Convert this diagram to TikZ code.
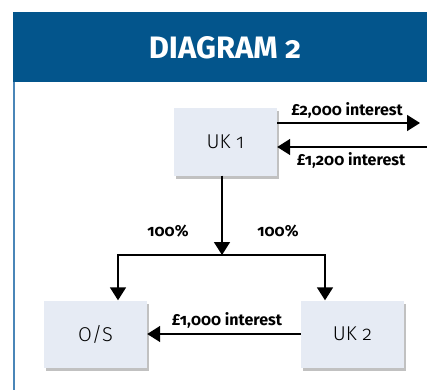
\documentclass[tikz,border=0pt]{standalone}
\usepackage{fontspec}
\setmainfont{Fira Sans}
\newfontfamily\lblfont[Numbers=OldStyle]{Fira Sans}
\newfontfamily\boxfont[Numbers=OldStyle]{Fira Sans Light}
\usepackage{tikz}
\usetikzlibrary{arrows.meta,shadows}

\definecolor{headblue}{HTML}{03558C}
\definecolor{lineblue}{HTML}{4A86B8}
\definecolor{boxfill}{HTML}{E6EBF4}

\tikzset{
    entity/.style={fill=boxfill,minimum width=103pt,minimum height=67pt,inner sep=0pt,
        font=\boxfont\fontsize{20}{22}\selectfont,
        drop shadow={shadow xshift=2pt,shadow yshift=-3pt,opacity=0.35,fill=black!70}},
    flow/.style={line width=1.6pt,-{Triangle[length=13pt,width=16pt]}},
    lbl/.style={font=\lblfont\bfseries\fontsize{16}{18}\selectfont,inner sep=0pt}
}

\begin{document}
\begin{tikzpicture}[x=1pt,y=-1pt]
	    \useasboundingbox (0,0) rectangle (427,390);
	
	    % header
	    \fill[headblue] (13,12) rectangle (427,82);
	    \node[text=white,font=\lblfont\bfseries\fontsize{31}{34}\selectfont] (title) at (225,48) {DIAGRAM 2};
	    \draw[lineblue,line width=1.5pt] (14,82) -- (14,390);
	
	    % companies
	    \node[entity] (uk1) at (225.5,142) {UK 1};
	    \node[entity] (os) at (95.5,334) {O/S};
	    \node[entity] (uk2) at (352.5,334) {UK 2};
	
	    % interest with the outside
	    \coordinate (outR) at (420,123);
	    \coordinate (inR) at (427,147);
	    \draw[flow] (uk1.east |- outR) -- (outR);
	    \draw[flow] (inR) -- (uk1.east |- inR);
	    \node[lbl] (lblout) at (347,110) {£2,000 interest};
	    \node[lbl] (lblin) at (351,160) {£1,200 interest};
	
	    % ownership
	    \coordinate (split) at (222,255);
	    \coordinate (barL) at (118,255);
	    \coordinate (barR) at (325,255);
	    \draw[flow] (uk1.south -| split) -- (split);
	    \draw[line width=1.6pt] ([xshift=-0.8pt]barL) -- ([xshift=0.8pt]barR);
	    \draw[flow] ([yshift=-0.8pt]barL) -- (os.north -| barL);
	    \draw[flow] ([yshift=-0.8pt]barR) -- (uk2.north -| barR);
	    \node[lbl] (pctL) at (168,231) {100\%};
	    \node[lbl] (pctR) at (278,231) {100\%};
	
	    % interest UK 2 to O/S
	    \draw[flow] (uk2.west) -- (os.east);
	    \node[lbl] (lblos) at (227,320) {£1,000 interest};
\end{tikzpicture}
\end{document}
